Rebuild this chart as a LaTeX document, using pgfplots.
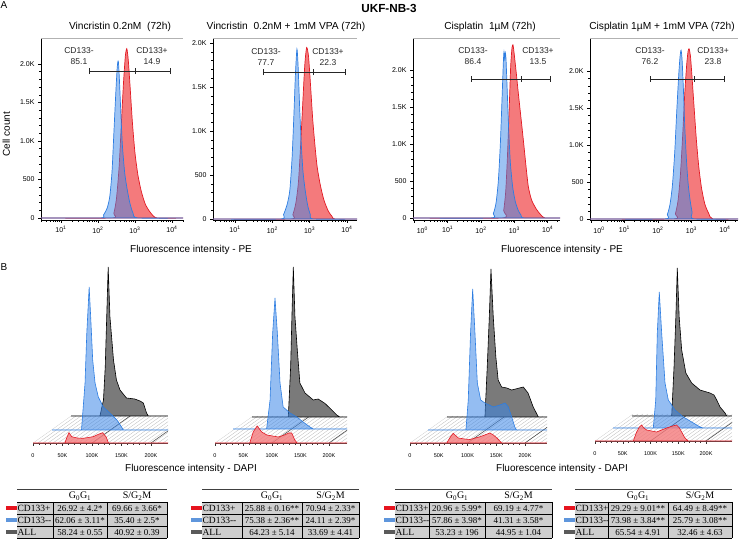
\documentclass[border=0pt]{standalone}
\usepackage{pgfplots}
\pgfplotsset{compat=1.18}
\usepackage{fontspec}
\setmainfont{Liberation Sans}
\newfontfamily\tabfont{Liberation Serif}
\definecolor{redline}{RGB}{226,26,36}
\definecolor{redfill}{RGB}{244,122,124}
\definecolor{blueline}{RGB}{45,125,225}
\definecolor{bluefill}{RGB}{60,135,232}
\definecolor{grayfill}{RGB}{122,122,122}
\definecolor{cellgray}{RGB}{206,206,206}
\definecolor{mred}{RGB}{230,20,30}
\definecolor{mblue}{RGB}{95,150,220}
\definecolor{mgray}{RGB}{90,90,90}
\newcommand\fs[1]{\fontsize{#1}{#1}\selectfont}
\pgfplotsset{
  Aax/.style={
    scale only axis, height=182pt, anchor=south west,
    axis x line*=bottom, axis y line*=left,
    axis line style={-, black, line width=0.6pt},
    tick align=outside, major tick length=3pt, minor tick length=1.6pt,
    every tick/.style={black, line width=0.5pt},
    tick label style={font=\fs{7}},
    /pgf/number format/assume math mode=true,
    ytick={0,500,1000,1500,2000},
    yticklabels={0,500,1.0K,1.5K,2.0K},
    minor y tick num=4,
    minor xtick={0.301,0.477,0.602,0.699,0.778,0.845,0.903,0.954,1.301,1.477,1.602,1.699,1.778,1.845,1.903,1.954,2.301,2.477,2.602,2.699,2.778,2.845,2.903,2.954,3.301,3.477,3.602,3.699,3.778,3.845,3.903,3.954,4.301},
    clip=false,
  },
  Bax/.style={scale only axis, anchor=south west, height=160pt, ymin=0, ymax=160, xmin=0, axis lines=none, clip=false},
  Bfront/.style={scale only axis, anchor=south west, height=160pt, ymin=0, ymax=160, xmin=0,
    axis x line*=bottom, axis y line=none, axis line style={-, black!70, line width=0.5pt},
    xtick={0,50,100,150,200}, xticklabels={0,50K,100K,150K,200K}, minor x tick num=4,
    tick align=outside, major tick length=3pt, minor tick length=2pt,
    every tick/.style={black!80, line width=0.5pt},
    tick label style={font=\fs{5.5}}, xticklabel style={yshift=-4pt},
    /pgf/number format/assume math mode=true, clip=false},
  redA/.style={draw=redline, fill=redfill, line width=0.7pt, smooth, tension=0.4},
  blueA/.style={draw=blueline, fill=bluefill, fill opacity=0.5, line width=0.7pt, smooth, tension=0.4},
  blackB/.style={draw=black, fill=grayfill, line width=0.6pt},
  blueB/.style={draw=blueline, fill=bluefill, fill opacity=0.55, line width=0.6pt},
  redB/.style={draw=redline, fill=redfill, fill opacity=0.8, line width=0.6pt},
}
\newcommand\topline{\draw[gray!60, line width=0.6pt] (rel axis cs:0,1) -- (rel axis cs:1,1);}
\newcommand\gate[4]{%
  \draw[black!85, line width=0.6pt] (axis cs:#1,#4) -- (axis cs:#3,#4);
  \draw[black!85, line width=0.6pt] ([yshift=-3pt]axis cs:#1,#4) -- ([yshift=3pt]axis cs:#1,#4);
  \draw[black!85, line width=0.6pt] ([yshift=-3pt]axis cs:#2,#4) -- ([yshift=3pt]axis cs:#2,#4);
  \draw[black!85, line width=0.6pt] ([yshift=-3pt]axis cs:#3,#4) -- ([yshift=3pt]axis cs:#3,#4);}
% floor: x0, xR, yb (px), s (px per K)
\newcommand\floor[4]{%
  \begin{scope}
    \clip (#1,#3) -- (#2,#3) -- (#2,#3-27) -- (#1+38,#3-27) -- cycle;
    \foreach \h in {-40,-35,...,180} \draw[gray!55, line width=0.3pt] ({#1+\h},#3) -- ++(38,-27);
    \draw[black!75, line width=0.5pt] ({#1+100*#4},#3) -- ++(38,-27);
    \draw[black!75, line width=0.5pt] ({#1+200*#4},#3) -- ++(38,-27);
  \end{scope}}
\newcommand\Tgeom[4]{\def\tL{#1}\def\tA{#2}\def\tB{#3}\def\tR{#4}}
\newcommand\Tbody[6]{%
  \fill[cellgray] (\tL,502) rectangle (\tR,538.5);
  \draw[black!75, line width=1pt] (\tL,490) -- (\tR,490);
  \foreach \yy in {502,514,526.3,538.5} \draw[black, line width=0.8pt] (\tL,\yy) -- (\tR,\yy);
  \foreach \xx in {\tA,\tB,\tR} \draw[black, line width=0.8pt] (\xx,502) -- (\xx,538.5);
  \node[font=\tabfont\fs{10}] at ({(\tA+\tB)/2},496) {G\textsubscript{0}G\textsubscript{1}};
  \node[font=\tabfont\fs{10}] at ({(\tB+\tR)/2},496) {S/G\textsubscript{2}M};
  \node[font=\tabfont\fs{9.5}, anchor=west, inner sep=0.4pt] at (\tL,508.3) {CD133+};
  \node[font=\tabfont\fs{9.5}, anchor=west, inner sep=0.4pt] at (\tL,520.3) {CD133--};
  \node[font=\tabfont\fs{9.5}, anchor=west, inner sep=0.4pt] at (\tL,532.4) {ALL};
  \node[font=\tabfont\fs{9}] at ({(\tA+\tB)/2},508.3) {#1};
  \node[font=\tabfont\fs{9}] at ({(\tB+\tR)/2},508.3) {#2};
  \node[font=\tabfont\fs{9}] at ({(\tA+\tB)/2},520.3) {#3};
  \node[font=\tabfont\fs{9}] at ({(\tB+\tR)/2},520.3) {#4};
  \node[font=\tabfont\fs{9}] at ({(\tA+\tB)/2},532.4) {#5};
  \node[font=\tabfont\fs{9}] at ({(\tB+\tR)/2},532.4) {#6};
  \fill[mred] ({\tL-11},506.5) rectangle ({\tL-0.5},510.5);
  \fill[mblue] ({\tL-11},518.5) rectangle ({\tL-0.5},522.5);
  \fill[mgray] ({\tL-11},530.5) rectangle ({\tL-0.5},534.5);}
\begin{document}
\begin{tikzpicture}
\path[use as bounding box] (0,0) rectangle (741pt,543pt);
% ---------- Row A ----------
\begin{axis}[Aax, at={(41pt,323pt)}, width=142pt, xmin=0.46, xmax=4.30, ymin=-26, ymax=2338,
  xtick={1,2,3,4}, xticklabels={10\textsuperscript{1},10\textsuperscript{2},10\textsuperscript{3},10\textsuperscript{4}}]
\addplot[redA] coordinates {(0.46,0) (2.37,0) (2.43,60) (2.5,250) (2.57,650) (2.63,1200) (2.69,1750) (2.74,2100) (2.78,2200) (2.82,2050) (2.87,1700) (2.93,1250) (3.0,850) (3.08,560) (3.17,350) (3.28,180) (3.42,70) (3.6,0) (4.3,0)} \closedcycle;
\addplot[blueA] coordinates {(0.46,0) (2.05,0) (2.15,40) (2.25,130) (2.32,280) (2.38,600) (2.43,1100) (2.48,1600) (2.52,1950) (2.55,2040) (2.58,1800) (2.62,1350) (2.66,950) (2.72,600) (2.78,400) (2.86,200) (2.95,60) (3.08,0) (4.3,0)} \closedcycle;
\topline
\gate{1.76}{3.0}{3.95}{1909}
\end{axis}
\begin{axis}[Aax, at={(213pt,323pt)}, width=144pt, xmin=0.41, xmax=4.27, ymin=-11, ymax=2057,
  xtick={1,2,3,4}, xticklabels={10\textsuperscript{1},10\textsuperscript{2},10\textsuperscript{3},10\textsuperscript{4}}]
\addplot[redA] coordinates {(0.41,0) (2.47,0) (2.55,50) (2.63,180) (2.7,420) (2.76,850) (2.82,1350) (2.87,1750) (2.92,1950) (2.97,1850) (3.02,1550) (3.08,1150) (3.14,850) (3.2,600) (3.28,400) (3.38,220) (3.5,90) (3.6,30) (3.68,0) (4.27,0)} \closedcycle;
\addplot[blueA] coordinates {(0.41,0) (2.2,0) (2.3,50) (2.4,170) (2.47,330) (2.53,700) (2.58,1200) (2.62,1650) (2.66,1930) (2.69,1750) (2.73,1300) (2.77,900) (2.82,550) (2.88,330) (2.95,150) (3.02,50) (3.1,0) (4.27,0)} \closedcycle;
\topline
\gate{1.75}{3.09}{3.95}{1670}
\end{axis}
\begin{axis}[Aax, at={(413pt,323pt)}, width=147pt, xmin=-0.04, xmax=4.37, ymin=-27, ymax=2432,
  xtick={0,1,2,3,4}, xticklabels={\hspace{16pt}10\textsuperscript{0},10\textsuperscript{1},10\textsuperscript{2},10\textsuperscript{3},10\textsuperscript{4}}]
\addplot[redA] coordinates {(-0.04,0) (2.62,0) (2.68,100) (2.74,350) (2.79,800) (2.84,1400) (2.89,2045) (2.93,2300) (2.96,2340) (3.0,2200) (3.06,1950) (3.12,1685) (3.2,1350) (3.27,1054) (3.35,700) (3.42,423) (3.52,240) (3.67,113) (3.8,40) (3.92,0) (4.37,0)} \closedcycle;
\addplot[blueA] coordinates {(-0.04,0) (2.27,0) (2.37,60) (2.45,200) (2.52,500) (2.58,1000) (2.63,1600) (2.67,2100) (2.69,2245) (2.71,2150) (2.73,2230) (2.75,2150) (2.78,1800) (2.83,1200) (2.88,750) (2.95,420) (3.03,220) (3.12,100) (3.2,40) (3.3,0) (4.37,0)} \closedcycle;
\topline
\gate{1.7}{3.2}{4.07}{1878}
\end{axis}
\begin{axis}[Aax, at={(590pt,323pt)}, width=148pt, xmin=-0.03, xmax=4.39, ymin=-14, ymax=2446,
  xtick={0,1,2,3,4}, xticklabels={\hspace{16pt}10\textsuperscript{0},10\textsuperscript{1},10\textsuperscript{2},10\textsuperscript{3},10\textsuperscript{4}}]
\addplot[redA] coordinates {(-0.03,0) (2.45,0) (2.52,70) (2.6,250) (2.67,600) (2.74,1150) (2.8,1700) (2.86,2100) (2.9,2270) (2.93,2300) (2.97,2200) (3.02,1900) (3.08,1500) (3.15,1050) (3.22,700) (3.3,420) (3.4,200) (3.52,70) (3.64,0) (4.39,0)} \closedcycle;
\addplot[blueA] coordinates {(-0.03,0) (2.18,0) (2.28,60) (2.36,200) (2.43,450) (2.5,900) (2.56,1450) (2.62,1950) (2.66,2200) (2.69,2280) (2.72,2150) (2.76,1750) (2.8,1250) (2.85,800) (2.9,480) (2.96,250) (3.02,90) (3.07,0) (4.39,0)} \closedcycle;
\topline
\gate{1.76}{3.07}{3.97}{1892}
\end{axis}
% ---------- Row B floors ----------
\begin{scope}[shift={(0,543pt)}, x=1pt, y=-1pt]
\floor{33}{168}{443}{0.59}
\floor{215}{347}{443}{0.57}
\floor{410}{547}{443}{0.575}
\floor{595}{732}{441}{0.555}
\end{scope}
% ---------- B1 ----------
\begin{axis}[Bax, at={(71pt,127pt)}, width=96.8pt, xmax=164]
\addplot[blackB] coordinates {(0,0) (49,0) (55,16) (58,49) (60.5,99) (63,149) (66,99) (72,56) (77,36) (83,26) (94,18) (108,17) (117,15) (122.5,13) (128,3) (131,0) (164,0)} \closedcycle;
\end{axis}
\begin{axis}[Bax, at={(52pt,113pt)}, width=116.2pt, xmax=197]
\addplot[blueB] coordinates {(0,0) (50,0) (56,47) (59,97) (63,143) (65.6,113) (69,70) (73,47) (78.5,33) (87,23) (98,17) (110,10) (118,3) (121,0) (197,0)} \closedcycle;
\end{axis}
\begin{axis}[Bfront, at={(33pt,100pt)}, width=135.1pt, xmax=229]
\addplot[redB] coordinates {(0,0) (54,0) (57,5) (61,10.3) (65.6,6.3) (75,5) (85,4.7) (102,6.3) (112,9) (118,10.3) (124,6) (128,0) (229,0)} \closedcycle;
\end{axis}
% ---------- B2 ----------
\begin{axis}[Bax, at={(252pt,126pt)}, width=95pt, xmax=166.7]
\addplot[blackB] coordinates {(0,0) (63.7,0) (67.8,50) (70,100) (72.5,150) (75.4,100) (79.5,67) (84,34) (93,24) (107.5,17) (116,18) (128,13.6) (140,7) (148.6,2) (154,0) (166.7,0)} \closedcycle;
\end{axis}
\begin{axis}[Bax, at={(233pt,114pt)}, width=114pt, xmax=200]
\addplot[blueB] coordinates {(0,0) (59,0) (65,29) (69.6,96) (73.7,131) (77.8,96) (82.5,46) (88,22) (100,16) (112,12) (123,7) (135,2) (141,0) (200,0)} \closedcycle;
\end{axis}
\begin{axis}[Bfront, at={(215pt,100pt)}, width=132pt, xmax=231.6]
\addplot[redB] coordinates {(0,0) (61,0) (67,11) (74,17) (82,11) (91,8) (111,6) (122,8) (129,10) (134.6,10) (140,3) (144,0) (231.6,0)} \closedcycle;
\end{axis}
% ---------- B3 ----------
\begin{axis}[Bax, at={(447pt,126pt)}, width=100pt, xmax=174]
\addplot[blackB] coordinates {(0,0) (66,0) (70,50) (73.6,100) (76.5,148) (80.5,100) (85,60) (89,37) (95,30) (104,29) (112.5,27) (124,28.7) (132.7,30) (141,24) (150,10) (159,0) (174,0)} \closedcycle;
\end{axis}
\begin{axis}[Bax, at={(428pt,113pt)}, width=119pt, xmax=207]
\addplot[blueB] coordinates {(0,0) (66,0) (70,30) (74,97) (77.7,141) (81.7,97) (85.8,47) (91.6,30) (99,27) (113.6,23) (125,25) (134,27) (139.7,23) (145.6,13) (151,3) (154,0) (207,0)} \closedcycle;
\end{axis}
\begin{axis}[Bfront, at={(410pt,100pt)}, width=136.9pt, xmax=238]
\addplot[redB] coordinates {(0,0) (64,0) (69,5) (75,9.7) (84,5) (95,4) (104,3.5) (122,6.3) (132,8.5) (139,10) (145,8) (151,5) (159.5,0) (238,0)} \closedcycle;
\end{axis}
% ---------- B4 ----------
\begin{axis}[Bax, at={(632pt,127pt)}, width=99.9pt, xmax=180]
\addplot[blackB] coordinates {(0,0) (71.5,0) (75.7,49) (79,99) (81.6,148) (85,99) (89.5,66) (97,43) (107.5,33) (122.5,26) (140.5,23) (147.7,21) (152.6,16) (158.6,9) (167.6,3) (170.6,0) (180,0)} \closedcycle;
\end{axis}
\begin{axis}[Bax, at={(613pt,115pt)}, width=119pt, xmax=214.4]
\addplot[blueB] coordinates {(0,0) (72.6,0) (77,28) (79.8,95) (83.4,136) (87.7,95) (93.7,45) (99.6,28) (111.7,18) (126.7,11) (141.8,6) (156.8,1) (162.7,0) (214.4,0)} \closedcycle;
\end{axis}
\begin{axis}[Bfront, at={(595pt,102pt)}, width=137pt, xmax=246.8]
\addplot[redB] coordinates {(0,0) (69,0) (75,9) (80,14) (84,16) (88,13) (93,11) (111,9) (129,13) (140,15) (147,16) (152,13) (156,9) (162,3) (168,0) (246.8,0)} \closedcycle;
\end{axis}
% ---------- Texts and tables ----------
\begin{scope}[shift={(0,543pt)}, x=1pt, y=-1pt]
\node[font=\fs{10}] at (4,5) {A};
\node[font=\fs{10}] at (4,267.5) {B};
\node[font=\bfseries\fs{11.7}] at (389,8) {UKF-NB-3};
\node[font=\fs{10.2}] at (120,27.3) {Vincristin 0.2nM\ \ (72h)};
\node[font=\fs{10.2}] at (286,27.3) {Vincristin\ \ 0.2nM + 1mM VPA (72h)};
\node[font=\fs{10.2}] at (490,27.3) {Cisplatin\ \ 1µM (72h)};
\node[font=\fs{10.2}] at (662,27.3) {Cisplatin 1µM + 1mM VPA (72h)};
\node[font=\fs{10}, rotate=90] at (6.3,134) {Cell count};
\node[font=\fs{10}] at (191,250) {Fluorescence intensity - PE};
\node[font=\fs{10}] at (562,250) {Fluorescence intensity - PE};
\node[font=\fs{10}] at (191,469) {Fluorescence intensity - DAPI};
\node[font=\fs{10}] at (562,469) {Fluorescence intensity - DAPI};
\begin{scope}[every node/.style={font=\fs{8.5}, text=black!85, inner sep=0pt}]
\node at (79,51) {CD133-}; \node at (79,62) {85.1};
\node at (152,51) {CD133+}; \node at (152,62) {14.9};
\node at (266,52) {CD133-}; \node at (266,63) {77.7};
\node at (328,52) {CD133+}; \node at (328,63) {22.3};
\node at (473,51) {CD133-}; \node at (473,62) {86.4};
\node at (538,51) {CD133+}; \node at (538,62) {13.5};
\node at (650,51) {CD133-}; \node at (650,62) {76.2};
\node at (713,51) {CD133+}; \node at (713,62) {23.8};
\end{scope}
\Tgeom{17}{53}{107}{167}
\Tbody{26.92 ± 4.2*}{69.66 ± 3.66*}{62.06 ± 3.11*}{35.40 ± 2.5*}{58.24 ± 0.55}{40.92 ± 0.39}
\Tgeom{202}{242}{302}{359}
\Tbody{25.88 ± 0.16**}{70.94 ± 2.33*}{75.38 ± 2.36**}{24.11 ± 2.39*}{64.23 ± 5.14}{33.69 ± 4.41}
\Tgeom{395}{429}{485}{552}
\Tbody{20.96 ± 5.99*}{69.19 ± 4.77*}{57.86 ± 3.98*}{41.31 ± 3.58*}{53.23 ± 196}{44.95 ± 1.04}
\Tgeom{575}{608}{668}{732}
\Tbody{29.29 ± 9.01**}{64.49 ± 8.49**}{73.98 ± 3.84**}{25.79 ± 3.08**}{65.54 ± 4.91}{32.46 ± 4.63}
\end{scope}
\end{tikzpicture}
\end{document}
